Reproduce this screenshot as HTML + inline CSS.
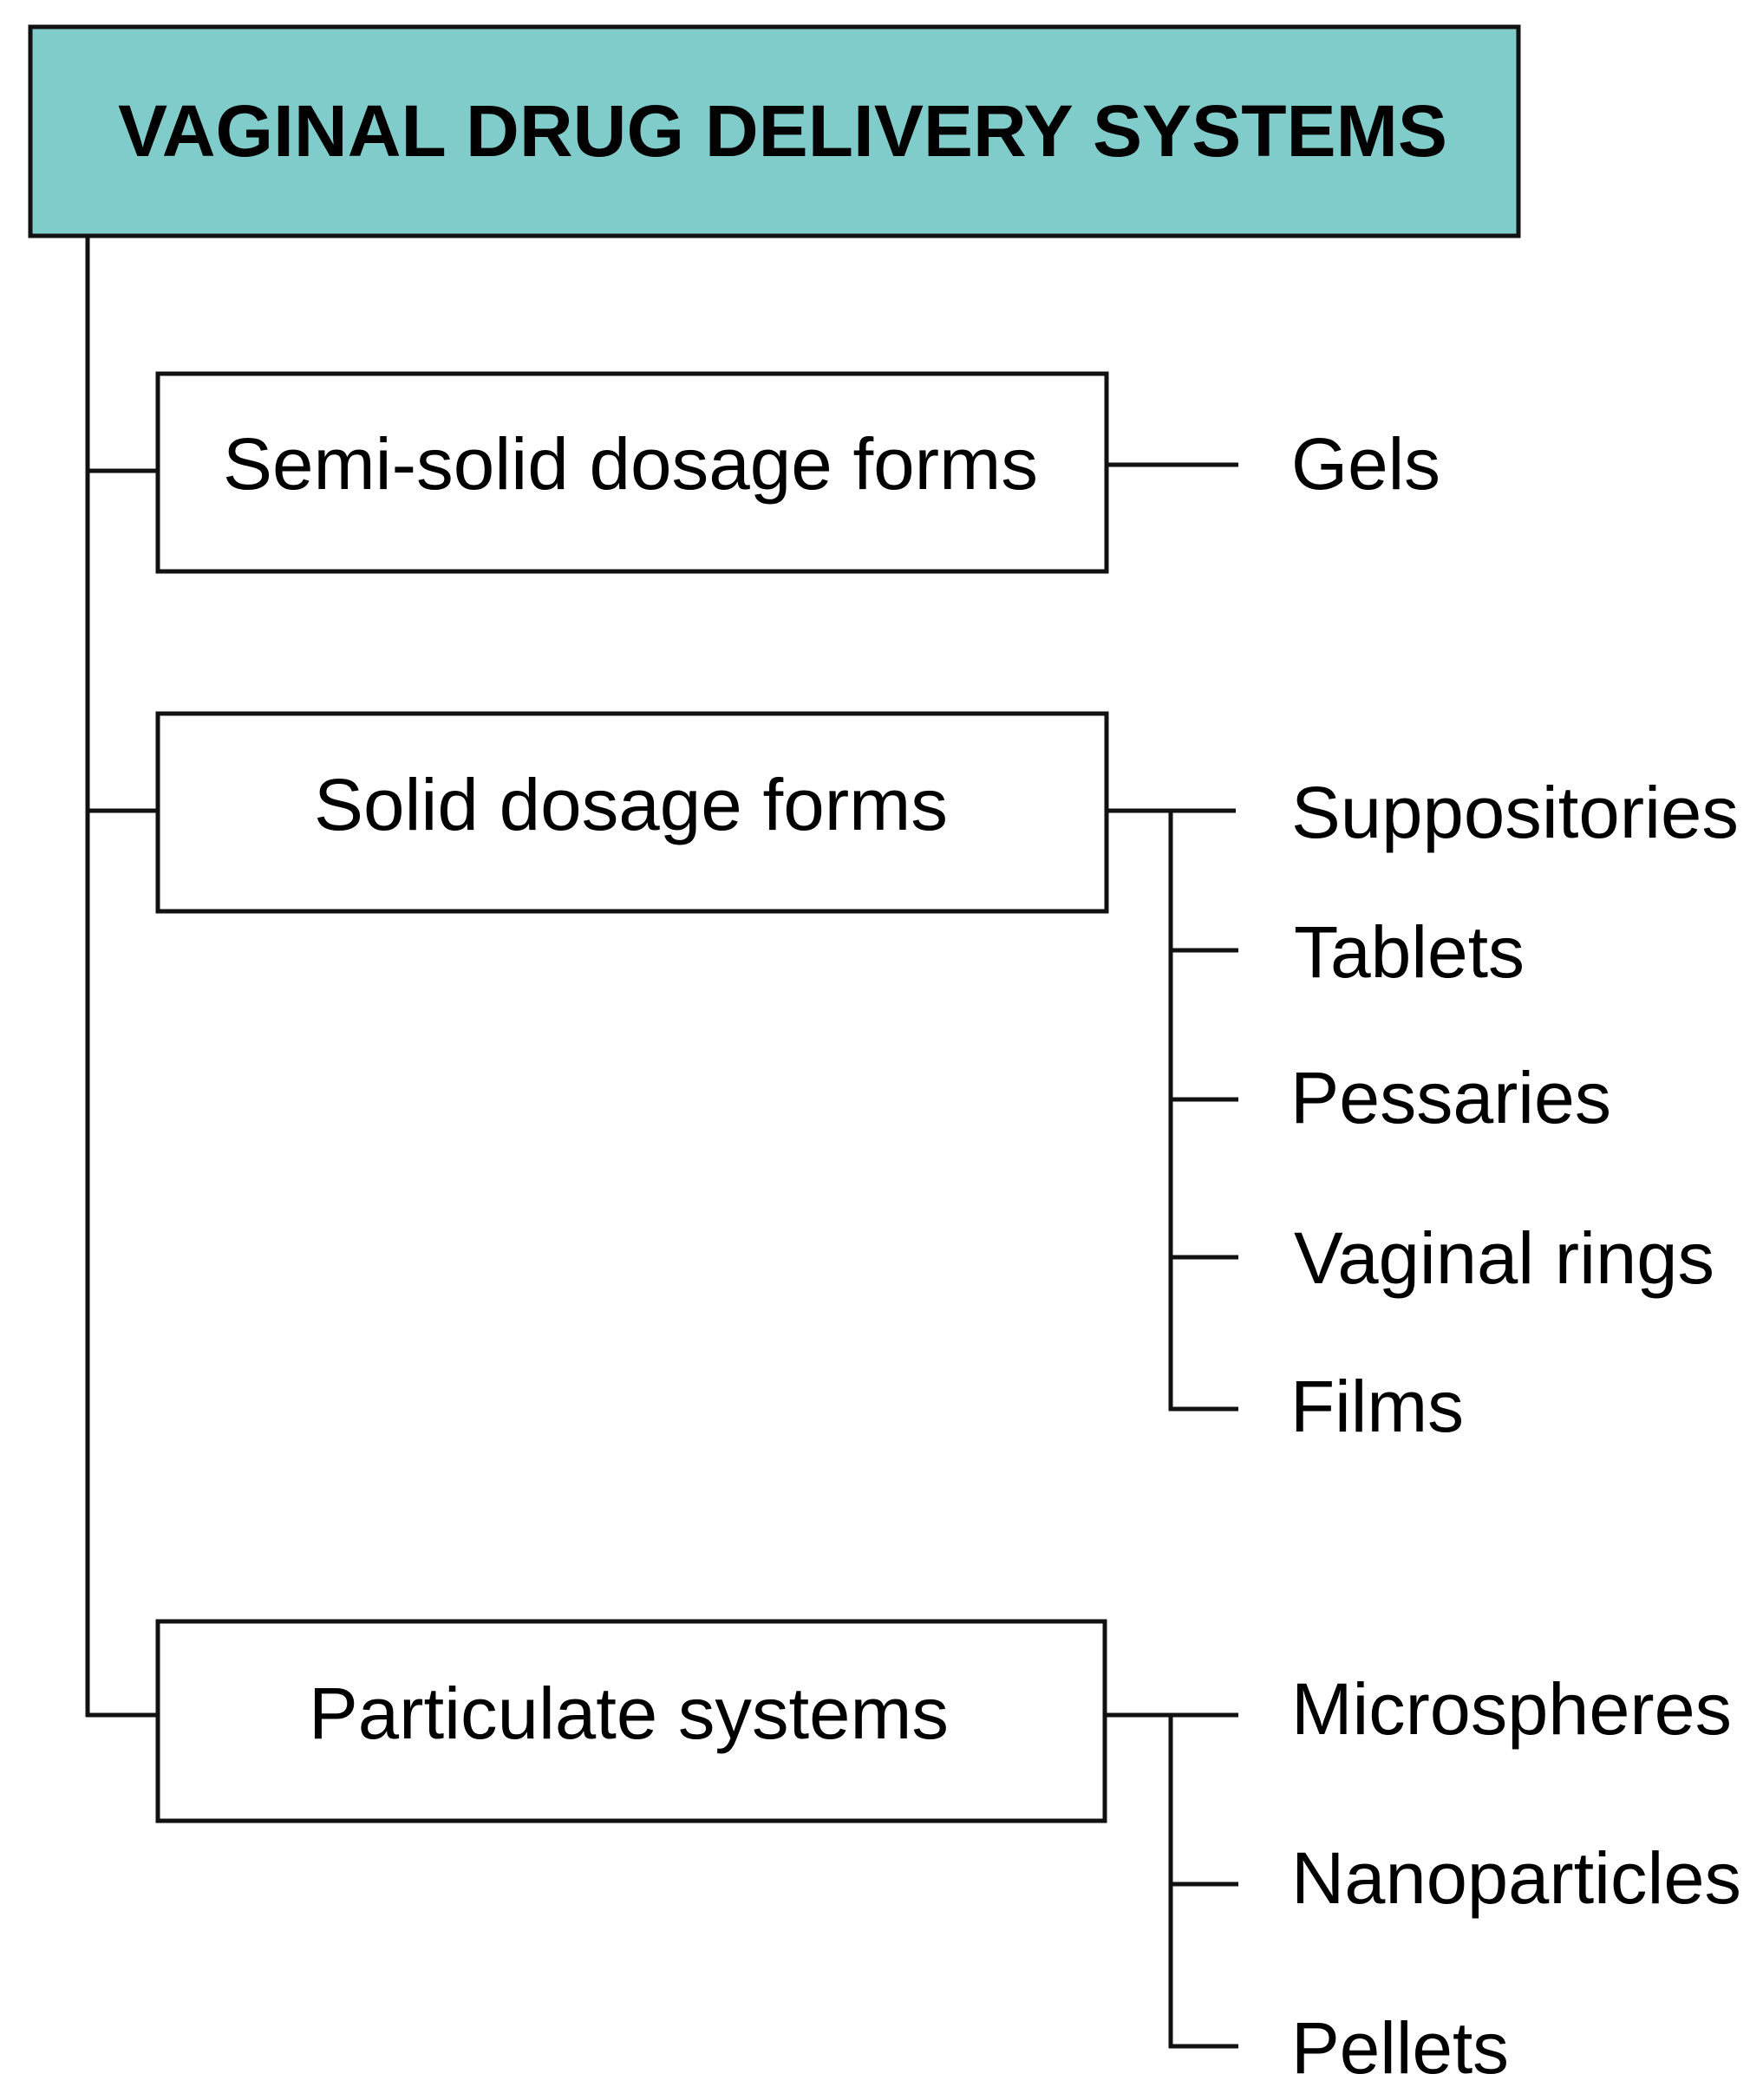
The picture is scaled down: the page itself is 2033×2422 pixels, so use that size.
<!DOCTYPE html>
<html><head><meta charset="utf-8"><style>
html,body{margin:0;padding:0;background:#fff;}
svg{display:block;}
text{font-family:"Liberation Sans",Arial,sans-serif;fill:#000;}
</style></head><body>
<svg width="2033" height="2422" viewBox="0 0 2033 2422" xmlns="http://www.w3.org/2000/svg">
<rect x="0" y="0" width="2033" height="2422" fill="#fff"/>
<rect x="35" y="31" width="1716" height="241" fill="#80CCCB" stroke="#111" stroke-width="5"/>
<text x="136" y="180" font-size="84" font-weight="bold" textLength="1533" lengthAdjust="spacingAndGlyphs">VAGINAL DRUG DELIVERY SYSTEMS</text>
<g stroke="#111" stroke-width="5" fill="none">
<line x1="101" y1="272" x2="101" y2="1980"/>
<line x1="99" y1="543" x2="181" y2="543"/>
<line x1="99" y1="935" x2="181" y2="935"/>
<line x1="99" y1="1978" x2="181" y2="1978"/>
<rect x="182" y="431" width="1094" height="228" fill="#fff"/>
<rect x="182" y="823" width="1094" height="228" fill="#fff"/>
<rect x="182" y="1870" width="1092" height="230" fill="#fff"/>
<line x1="1276" y1="536" x2="1428" y2="536"/>
<line x1="1276" y1="935" x2="1425" y2="935"/>
<line x1="1350" y1="935" x2="1350" y2="1627"/>
<line x1="1350" y1="1096" x2="1428" y2="1096"/>
<line x1="1350" y1="1268" x2="1428" y2="1268"/>
<line x1="1350" y1="1450" x2="1428" y2="1450"/>
<line x1="1348" y1="1625" x2="1428" y2="1625"/>
<line x1="1276" y1="1978" x2="1428" y2="1978"/>
<line x1="1350" y1="1978" x2="1350" y2="2362"/>
<line x1="1350" y1="2173" x2="1428" y2="2173"/>
<line x1="1348" y1="2360" x2="1428" y2="2360"/>
</g>
<g font-size="84">
<text x="257" y="564" textLength="940" lengthAdjust="spacingAndGlyphs">Semi-solid dosage forms</text>
<text x="362" y="957" textLength="731" lengthAdjust="spacingAndGlyphs">Solid dosage forms</text>
<text x="356" y="2005" textLength="738" lengthAdjust="spacingAndGlyphs">Particulate systems</text>
<text x="1489" y="564" textLength="172" lengthAdjust="spacingAndGlyphs">Gels</text>
<text x="1489" y="966" textLength="516" lengthAdjust="spacingAndGlyphs">Suppositories</text>
<text x="1492" y="1127" textLength="266" lengthAdjust="spacingAndGlyphs">Tablets</text>
<text x="1488" y="1295" textLength="370" lengthAdjust="spacingAndGlyphs">Pessaries</text>
<text x="1492" y="1480" textLength="485" lengthAdjust="spacingAndGlyphs">Vaginal rings</text>
<text x="1488" y="1651" textLength="200" lengthAdjust="spacingAndGlyphs">Films</text>
<text x="1489" y="2000" textLength="508" lengthAdjust="spacingAndGlyphs">Microspheres</text>
<text x="1489" y="2195" textLength="519" lengthAdjust="spacingAndGlyphs">Nanoparticles</text>
<text x="1489" y="2391" textLength="251" lengthAdjust="spacingAndGlyphs">Pellets</text>
</g>
</svg>
</body></html>
